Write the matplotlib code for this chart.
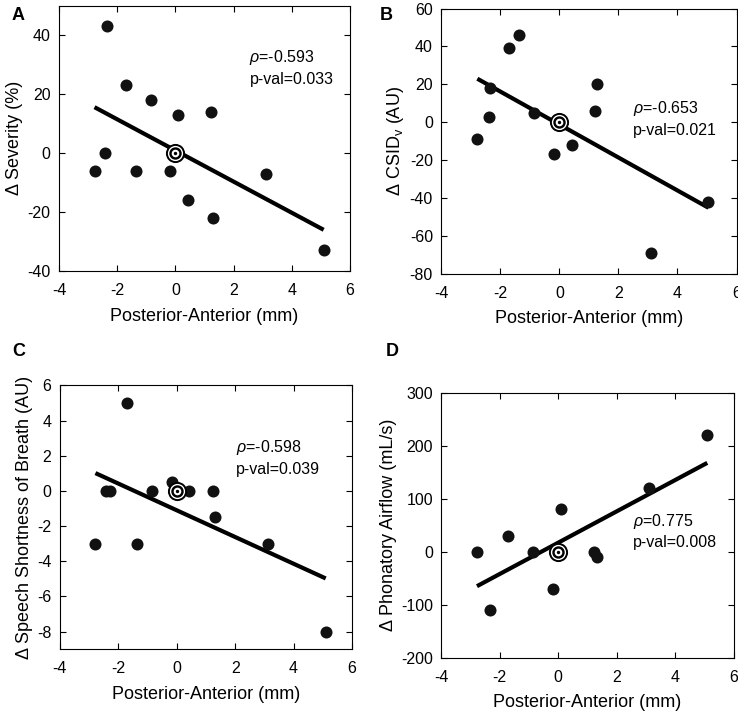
import numpy as np
import matplotlib
matplotlib.use("Agg")
import matplotlib.pyplot as plt

plt.rcParams['font.family'] = ['Liberation Sans', 'DejaVu Sans']
plt.rcParams['mathtext.fontset'] = 'custom'
plt.rcParams['mathtext.rm'] = 'Liberation Sans'
plt.rcParams['mathtext.it'] = 'Liberation Sans:italic'
plt.rcParams['axes.unicode_minus'] = False

# Panel A: severity
xa = [-2.78, -2.41, -2.35, -1.71, -1.36, -0.85, -0.17, 0.10, 0.42, 1.24, 1.31, 3.12, 5.10]
ya = [-6, 0, 43, 23, -6, 18, -6, 13, -16, 14, -22, -7, -33]

# Panel B: CSIDv
xb = [-2.78, -2.38, -2.35, -1.71, -1.36, -0.85, -0.17, 0.42, 1.22, 1.28, 3.10, 5.05]
yb = [-9, 3, 18, 39, 46, 5, -17, -12, 6, 20, -69, -42]

# Panel C: speech shortness of breath
xc = [-2.78, -2.41, -2.29, -1.71, -1.36, -0.85, -0.17, 0.42, 1.24, 1.31, 3.12, 5.10]
yc = [-3, 0, 0, 5, -3, 0, 0.5, 0, 0, -1.5, -3, -8]

# Panel D: phonatory airflow
xd = [-2.78, -2.33, -1.71, -0.85, -0.17, 0.10, 1.24, 1.31, 3.12, 5.10]
yd = [0, -110, 30, 0, -70, 80, 0, -10, 120, 220]

# fitted lines (slope, intercept)
fit_a = (-5.28, 0.9)
fit_b = (-8.7, -1.2)
fit_c = (-0.76, -1.1)
fit_d = (29.5, 17)

panels = [
    ("A", xa, ya, fit_a, (-40, 50), [-40, -20, 0, 20, 40], "Δ Severity (%)",
     "$\\rho$=-0.593\np-val=0.033", (2.55, 29), [0.080, 0.621, 0.394, 0.371], (12, 15)),
    ("B", xb, yb, fit_b, (-80, 60), [-80, -60, -40, -20, 0, 20, 40, 60], "Δ CSID$_\\mathrm{v}$ (AU)",
     "$\\rho$=-0.653\np-val=0.021", (2.48, 2), [0.598, 0.617, 0.400, 0.371], (380, 15)),
    ("C", xc, yc, fit_c, (-9, 6), [-8, -6, -4, -2, 0, 2, 4, 6], "Δ Speech Shortness of Breath (AU)",
     "$\\rho$=-0.598\np-val=0.039", (2.02, 1.9), [0.081, 0.092, 0.396, 0.369], (12, 352)),
    ("D", xd, yd, fit_d, (-200, 300), [-200, -100, 0, 100, 200, 300], "Δ Phonatory Airflow (mL/s)",
     "$\\rho$=0.775\np-val=0.008", (2.55, 39), [0.598, 0.080, 0.396, 0.371], (386, 352)),
]

fig = plt.figure(figsize=(7.38, 7.15), dpi=100)

for lab, x, y, fit, ylim, yticks, ylabel, stat, tpos, rect, lpos in panels:
    ax = fig.add_axes(rect)
    x = np.array(x)
    y = np.array(y)
    xl = np.array([x.min(), x.max()])
    ax.plot(xl, fit[0] * xl + fit[1], color="black", lw=3, solid_capstyle="butt", zorder=2)
    ax.scatter(x, y, s=75, color="#111111", zorder=3, linewidths=0)
    # target marker at origin
    for sz, c in [(190, "black"), (120, "white"), (80, "black"), (30, "white"), (6, "black")]:
        ax.scatter([0], [0], s=sz, color=c, zorder=4, linewidths=0)
    ax.set_xlim(-4, 6)
    ax.set_ylim(*ylim)
    ax.set_xticks([-4, -2, 0, 2, 4, 6])
    ax.set_yticks(yticks)
    ax.tick_params(direction="in", top=True, right=True, labelsize=11.5, length=4, width=0.8)
    ax.tick_params(axis="x", pad=8.5)
    ax.tick_params(axis="y", pad=6)
    ax.set_xlabel("Posterior-Anterior (mm)", fontsize=13, labelpad=7)
    ax.set_ylabel(ylabel, fontsize=13, labelpad=3)
    ax.text(tpos[0], tpos[1], stat, fontsize=11.5, ha="left", va="center", linespacing=1.4)
    for sp in ax.spines.values():
        sp.set_linewidth(0.8)
    fig.text(lpos[0] / 738, 1 - lpos[1] / 715, lab, fontsize=13, fontweight="bold",
             ha="left", va="center")

fig.savefig("out.png", dpi=100)
